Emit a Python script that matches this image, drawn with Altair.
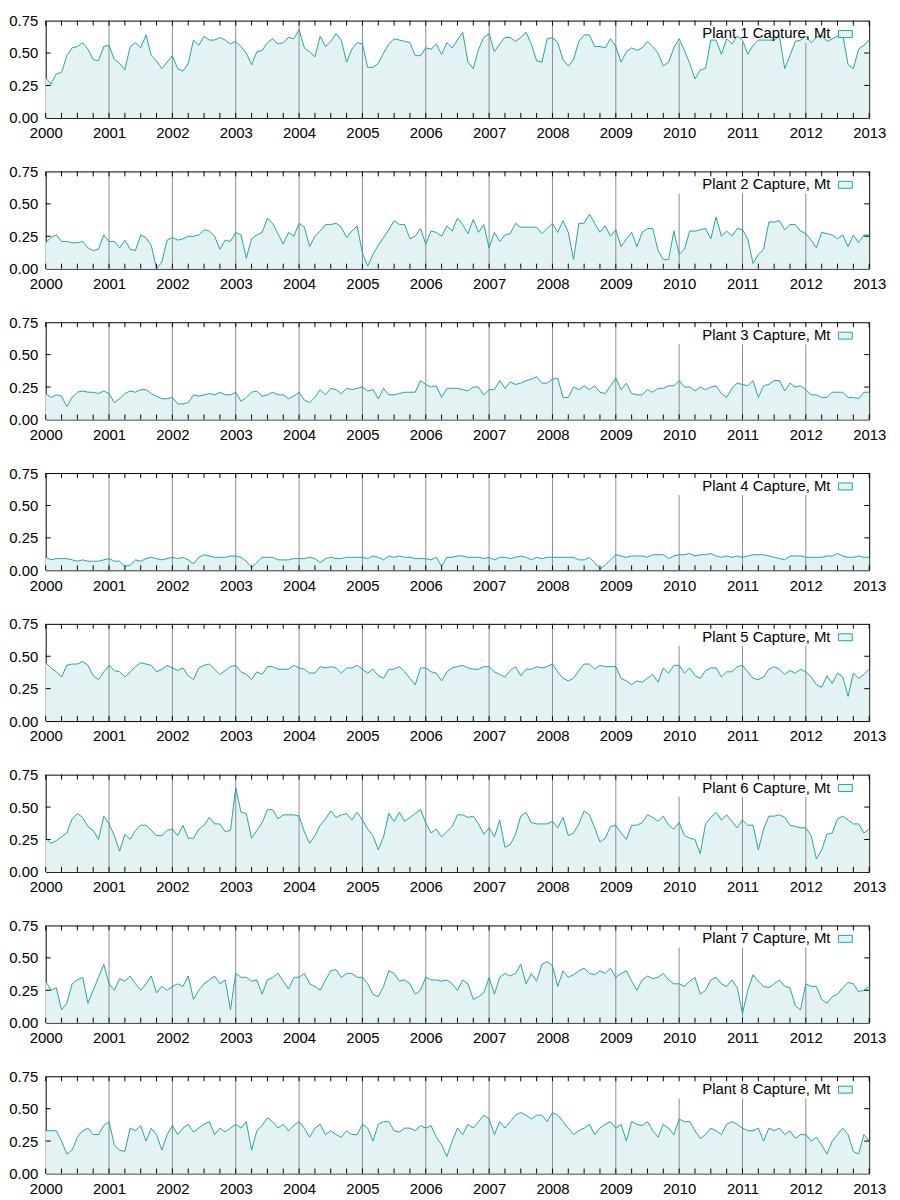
import altair as alt
import pandas as pd

# ---------------- data ----------------
START_YEAR = 2000
year_labels = list(range(2000, 2014))
grid_years = list(range(2001, 2013))
grid_tops = [0.75] * 9 + [0.58] * 3
y_tick_values = [0.0, 0.25, 0.5, 0.75]
inner_y_ticks = [0.25, 0.5]
quarter_ticks = [2000 + q / 4 for q in range(0, 53)]

titles = [f"Plant {i} Capture, Mt" for i in range(1, 9)]

plant1 = [0.31,0.26,0.34,0.35,0.48,0.54,0.55,0.58,0.53,0.45,0.44,0.55,
          0.56,0.45,0.42,0.37,0.55,0.58,0.54,0.64,0.48,0.44,0.38,0.43,
          0.48,0.38,0.36,0.42,0.60,0.56,0.63,0.60,0.60,0.62,0.60,0.57,
          0.59,0.55,0.50,0.41,0.51,0.52,0.58,0.61,0.57,0.58,0.62,0.61,
          0.68,0.54,0.51,0.47,0.63,0.55,0.59,0.65,0.60,0.43,0.53,0.58,
          0.57,0.39,0.39,0.42,0.50,0.57,0.61,0.60,0.59,0.58,0.48,0.48,
          0.54,0.53,0.57,0.49,0.58,0.54,0.60,0.66,0.43,0.38,0.53,0.62,
          0.65,0.51,0.57,0.62,0.62,0.59,0.62,0.66,0.57,0.44,0.43,0.61,
          0.62,0.58,0.45,0.40,0.45,0.59,0.64,0.64,0.55,0.55,0.54,0.61,
          0.55,0.43,0.51,0.54,0.52,0.54,0.59,0.55,0.50,0.40,0.43,0.54,
          0.61,0.52,0.42,0.30,0.37,0.38,0.60,0.60,0.49,0.61,0.57,0.63,
          0.60,0.49,0.56,0.60,0.60,0.60,0.60,0.63,0.38,0.48,0.59,0.60,
          0.63,0.58,0.62,0.64,0.59,0.61,0.63,0.64,0.41,0.38,0.53,0.56,
          0.60]
plant2 = [0.20,0.24,0.26,0.21,0.21,0.20,0.20,0.21,0.16,0.14,0.15,0.26,
          0.21,0.21,0.16,0.22,0.15,0.14,0.26,0.24,0.18,0.00,0.05,0.22,
          0.24,0.22,0.23,0.25,0.25,0.26,0.30,0.29,0.25,0.15,0.22,0.21,
          0.28,0.26,0.08,0.23,0.26,0.28,0.39,0.35,0.27,0.19,0.28,0.25,
          0.35,0.32,0.17,0.25,0.29,0.34,0.34,0.35,0.32,0.24,0.29,0.33,
          0.12,0.02,0.11,0.18,0.24,0.30,0.37,0.34,0.34,0.23,0.25,0.31,
          0.19,0.29,0.28,0.25,0.33,0.29,0.39,0.34,0.27,0.38,0.28,0.34,
          0.16,0.28,0.21,0.26,0.27,0.35,0.32,0.32,0.32,0.32,0.27,0.31,
          0.35,0.28,0.37,0.28,0.07,0.35,0.35,0.42,0.35,0.28,0.33,0.25,
          0.30,0.17,0.23,0.28,0.17,0.28,0.31,0.31,0.14,0.07,0.07,0.29,
          0.11,0.15,0.29,0.29,0.30,0.31,0.23,0.40,0.25,0.29,0.25,0.31,
          0.30,0.23,0.04,0.11,0.15,0.36,0.36,0.37,0.30,0.34,0.34,0.29,
          0.27,0.22,0.16,0.28,0.27,0.26,0.23,0.26,0.17,0.26,0.20,0.26,
          0.26]
plant3 = [0.20,0.17,0.19,0.18,0.10,0.17,0.21,0.22,0.21,0.21,0.20,0.22,
          0.20,0.13,0.16,0.20,0.22,0.21,0.23,0.23,0.20,0.18,0.16,0.16,
          0.17,0.12,0.12,0.13,0.19,0.18,0.19,0.20,0.19,0.21,0.19,0.19,
          0.21,0.14,0.17,0.21,0.22,0.18,0.19,0.21,0.19,0.19,0.16,0.18,
          0.21,0.15,0.13,0.17,0.23,0.19,0.24,0.23,0.20,0.24,0.23,0.24,
          0.25,0.22,0.23,0.16,0.24,0.19,0.19,0.20,0.21,0.21,0.21,0.30,
          0.27,0.25,0.26,0.17,0.24,0.24,0.24,0.23,0.22,0.25,0.25,0.19,
          0.23,0.23,0.30,0.24,0.29,0.27,0.28,0.30,0.31,0.33,0.28,0.28,
          0.31,0.32,0.17,0.17,0.25,0.23,0.26,0.23,0.26,0.21,0.20,0.26,
          0.32,0.23,0.28,0.20,0.19,0.19,0.23,0.21,0.24,0.24,0.26,0.26,
          0.30,0.25,0.25,0.22,0.25,0.23,0.25,0.26,0.20,0.17,0.24,0.28,
          0.27,0.26,0.30,0.17,0.26,0.27,0.30,0.30,0.22,0.28,0.25,0.26,
          0.23,0.19,0.19,0.17,0.17,0.21,0.21,0.21,0.17,0.17,0.16,0.21,
          0.21]
plant4 = [0.10,0.08,0.09,0.09,0.09,0.08,0.07,0.08,0.07,0.07,0.07,0.08,
          0.09,0.07,0.07,0.03,0.04,0.08,0.07,0.09,0.10,0.09,0.08,0.09,
          0.10,0.09,0.10,0.08,0.05,0.10,0.12,0.11,0.10,0.10,0.10,0.11,
          0.11,0.10,0.07,0.02,0.06,0.10,0.10,0.10,0.08,0.08,0.08,0.09,
          0.09,0.09,0.10,0.09,0.06,0.09,0.10,0.09,0.09,0.10,0.10,0.10,
          0.10,0.09,0.11,0.10,0.08,0.11,0.10,0.11,0.10,0.10,0.09,0.09,
          0.09,0.08,0.10,0.03,0.10,0.10,0.11,0.11,0.10,0.10,0.10,0.09,
          0.10,0.08,0.10,0.10,0.09,0.10,0.11,0.10,0.08,0.10,0.09,0.10,
          0.10,0.10,0.10,0.10,0.10,0.08,0.08,0.10,0.06,0.01,0.04,0.08,
          0.12,0.11,0.10,0.11,0.11,0.11,0.10,0.12,0.12,0.12,0.09,0.11,
          0.12,0.12,0.13,0.11,0.12,0.12,0.13,0.11,0.10,0.11,0.10,0.11,
          0.10,0.11,0.12,0.12,0.12,0.11,0.10,0.09,0.08,0.11,0.11,0.11,
          0.10,0.10,0.10,0.10,0.11,0.11,0.13,0.11,0.10,0.10,0.11,0.10,
          0.10]
plant5 = [0.45,0.41,0.38,0.34,0.43,0.44,0.44,0.46,0.43,0.35,0.32,0.38,
          0.43,0.39,0.38,0.34,0.38,0.42,0.45,0.44,0.43,0.38,0.40,0.43,
          0.41,0.39,0.41,0.35,0.32,0.41,0.43,0.44,0.40,0.36,0.39,0.42,
          0.43,0.38,0.36,0.32,0.38,0.36,0.42,0.42,0.40,0.40,0.40,0.43,
          0.41,0.40,0.37,0.37,0.42,0.41,0.42,0.41,0.37,0.41,0.41,0.43,
          0.40,0.37,0.40,0.35,0.33,0.40,0.40,0.42,0.38,0.33,0.28,0.41,
          0.41,0.38,0.37,0.31,0.38,0.41,0.42,0.43,0.41,0.40,0.40,0.42,
          0.42,0.38,0.36,0.34,0.39,0.42,0.35,0.40,0.40,0.42,0.41,0.42,
          0.44,0.38,0.33,0.31,0.33,0.39,0.44,0.44,0.40,0.43,0.42,0.42,
          0.42,0.33,0.31,0.28,0.31,0.30,0.33,0.36,0.30,0.41,0.37,0.43,
          0.43,0.37,0.41,0.35,0.33,0.39,0.41,0.41,0.34,0.38,0.38,0.42,
          0.43,0.38,0.33,0.32,0.34,0.40,0.42,0.40,0.36,0.39,0.37,0.40,
          0.38,0.34,0.28,0.26,0.35,0.29,0.37,0.34,0.19,0.37,0.33,0.36,
          0.40]
plant6 = [0.26,0.22,0.24,0.27,0.30,0.41,0.45,0.42,0.35,0.32,0.25,0.43,
          0.37,0.28,0.16,0.29,0.25,0.32,0.36,0.36,0.32,0.28,0.28,0.32,
          0.33,0.28,0.36,0.26,0.26,0.33,0.36,0.42,0.37,0.37,0.31,0.32,
          0.65,0.46,0.45,0.26,0.32,0.38,0.48,0.48,0.41,0.44,0.44,0.44,
          0.43,0.31,0.22,0.28,0.36,0.41,0.47,0.42,0.44,0.45,0.40,0.46,
          0.40,0.33,0.28,0.17,0.27,0.45,0.39,0.46,0.39,0.42,0.45,0.48,
          0.38,0.30,0.33,0.27,0.31,0.35,0.44,0.44,0.42,0.43,0.37,0.29,
          0.34,0.27,0.40,0.19,0.21,0.29,0.43,0.46,0.38,0.37,0.37,0.37,
          0.39,0.34,0.42,0.28,0.30,0.37,0.47,0.44,0.34,0.23,0.26,0.35,
          0.36,0.30,0.25,0.36,0.36,0.38,0.44,0.42,0.39,0.43,0.36,0.33,
          0.38,0.28,0.26,0.25,0.14,0.37,0.42,0.46,0.40,0.44,0.39,0.34,
          0.40,0.36,0.36,0.17,0.33,0.43,0.43,0.44,0.42,0.36,0.35,0.34,
          0.34,0.28,0.10,0.17,0.29,0.30,0.41,0.43,0.40,0.37,0.37,0.30,
          0.33]
plant7 = [0.32,0.25,0.27,0.10,0.15,0.30,0.33,0.35,0.15,0.25,0.35,0.45,
          0.30,0.25,0.34,0.32,0.36,0.30,0.25,0.30,0.36,0.23,0.28,0.25,
          0.28,0.30,0.28,0.36,0.18,0.25,0.30,0.33,0.36,0.30,0.33,0.10,
          0.38,0.35,0.35,0.32,0.33,0.22,0.33,0.35,0.38,0.32,0.26,0.35,
          0.35,0.38,0.30,0.28,0.25,0.33,0.40,0.41,0.35,0.38,0.38,0.35,
          0.35,0.30,0.22,0.20,0.28,0.40,0.38,0.32,0.33,0.30,0.22,0.25,
          0.35,0.33,0.33,0.32,0.33,0.30,0.25,0.33,0.30,0.18,0.20,0.23,
          0.35,0.22,0.35,0.38,0.36,0.38,0.45,0.30,0.38,0.32,0.45,0.47,
          0.44,0.28,0.40,0.35,0.37,0.40,0.42,0.38,0.37,0.40,0.38,0.42,
          0.35,0.38,0.40,0.32,0.25,0.33,0.36,0.34,0.35,0.38,0.33,0.30,
          0.30,0.28,0.32,0.35,0.22,0.25,0.33,0.35,0.30,0.28,0.33,0.27,
          0.07,0.25,0.37,0.32,0.28,0.27,0.30,0.33,0.28,0.27,0.13,0.10,
          0.30,0.28,0.28,0.18,0.15,0.20,0.22,0.27,0.31,0.30,0.24,0.25,
          0.28]
plant8 = [0.33,0.33,0.33,0.25,0.15,0.18,0.28,0.33,0.35,0.30,0.30,0.37,
          0.40,0.22,0.18,0.17,0.35,0.33,0.37,0.25,0.35,0.30,0.18,0.30,
          0.37,0.30,0.35,0.38,0.32,0.35,0.38,0.40,0.30,0.35,0.32,0.35,
          0.38,0.35,0.40,0.18,0.33,0.37,0.43,0.40,0.35,0.38,0.33,0.37,
          0.40,0.35,0.28,0.35,0.38,0.30,0.33,0.30,0.28,0.33,0.30,0.30,
          0.38,0.35,0.25,0.38,0.40,0.40,0.33,0.32,0.35,0.35,0.33,0.37,
          0.35,0.37,0.28,0.22,0.13,0.25,0.35,0.30,0.38,0.35,0.40,0.45,
          0.42,0.30,0.40,0.35,0.40,0.45,0.47,0.45,0.42,0.45,0.45,0.40,
          0.47,0.45,0.40,0.35,0.30,0.33,0.35,0.38,0.30,0.35,0.38,0.40,
          0.35,0.38,0.25,0.40,0.38,0.37,0.40,0.33,0.28,0.38,0.35,0.30,
          0.42,0.40,0.40,0.33,0.27,0.30,0.35,0.33,0.30,0.38,0.40,0.38,
          0.35,0.33,0.33,0.35,0.25,0.35,0.33,0.35,0.30,0.33,0.27,0.30,
          0.30,0.25,0.28,0.22,0.15,0.25,0.30,0.35,0.30,0.17,0.15,0.30,
          0.25]

series = [plant1, plant2, plant3, plant4, plant5, plant6, plant7, plant8]

# ---------------- style ----------------
FONT = "Liberation Sans"
FS = 15
LINE = "#1fa5a5"
FILL = "#e3f3f3"
GRID = "#8c8c8c"
W, H = 830, 98
TICK = 5

xs = alt.Scale(domain=[2000, 2013], nice=False, zero=False)
ys = alt.Scale(domain=[0, 0.75], nice=False)

x_enc = alt.X("t:Q", scale=xs,
              axis=alt.Axis(values=year_labels, format="d", labelFlush=False,
                            labelOverlap=False, ticks=False, domain=False,
                            grid=False, labelPadding=8, title=None))
y_enc = alt.Y("v:Q", scale=ys,
              axis=alt.Axis(values=y_tick_values, format=".2f", labelFlush=False,
                            labelOverlap=False, ticks=False, domain=False,
                            grid=False, labelPadding=8, title=None))

grid_df = pd.DataFrame({"t": grid_years, "v": [0.0] * len(grid_years), "top": grid_tops})
qt_df = pd.DataFrame({"t": quarter_ticks})
yt_df = pd.DataFrame({"v": inner_y_ticks})


def make_panel(vals, title):
    df = pd.DataFrame({"t": [START_YEAR + i / 12 for i in range(len(vals))], "v": vals})
    base = alt.Chart(df)
    fill = base.mark_area(color=FILL, opacity=1).encode(x=x_enc, y=y_enc)
    rules = alt.Chart(grid_df).mark_rule(color=GRID, strokeWidth=1).encode(
        x=x_enc, y=y_enc, y2="top:Q")
    line = base.mark_line(color=LINE, strokeWidth=1).encode(x=x_enc, y=y_enc)
    top_t = alt.Chart(qt_df).mark_rule(color="black", strokeWidth=1).encode(
        x=x_enc, y=alt.value(0), y2=alt.value(TICK))
    bot_t = alt.Chart(qt_df).mark_rule(color="black", strokeWidth=1).encode(
        x=x_enc, y=alt.value(H), y2=alt.value(H - TICK))
    left_t = alt.Chart(yt_df).mark_rule(color="black", strokeWidth=1).encode(
        y=y_enc, x=alt.value(0), x2=alt.value(TICK))
    right_t = alt.Chart(yt_df).mark_rule(color="black", strokeWidth=1).encode(
        y=y_enc, x=alt.value(W), x2=alt.value(W - TICK))
    ldf = pd.DataFrame({"label": [title]})
    ltext = alt.Chart(ldf).mark_text(align="right", baseline="middle", fontSize=FS,
                                     font=FONT, color="black").encode(
        x=alt.value(791), y=alt.value(13), text="label:N")
    lbox = alt.Chart(ldf).mark_rect(fill=FILL, stroke=LINE, strokeWidth=1).encode(
        x=alt.value(799), x2=alt.value(813), y=alt.value(10), y2=alt.value(17))
    return alt.layer(fill, rules, line, top_t, bot_t, left_t, right_t, ltext, lbox).properties(
        width=W, height=H)


chart = alt.vconcat(*[make_panel(s, t) for s, t in zip(series, titles)], spacing=22).properties(
    padding={"left": 0, "top": 0, "right": 5, "bottom": 0}
).configure_view(stroke="black", strokeWidth=1).configure_axis(
    labelFont=FONT, labelFontSize=FS, labelColor="black")

chart.save("out.html", embed_options={"renderer": "svg", "actions": False})
